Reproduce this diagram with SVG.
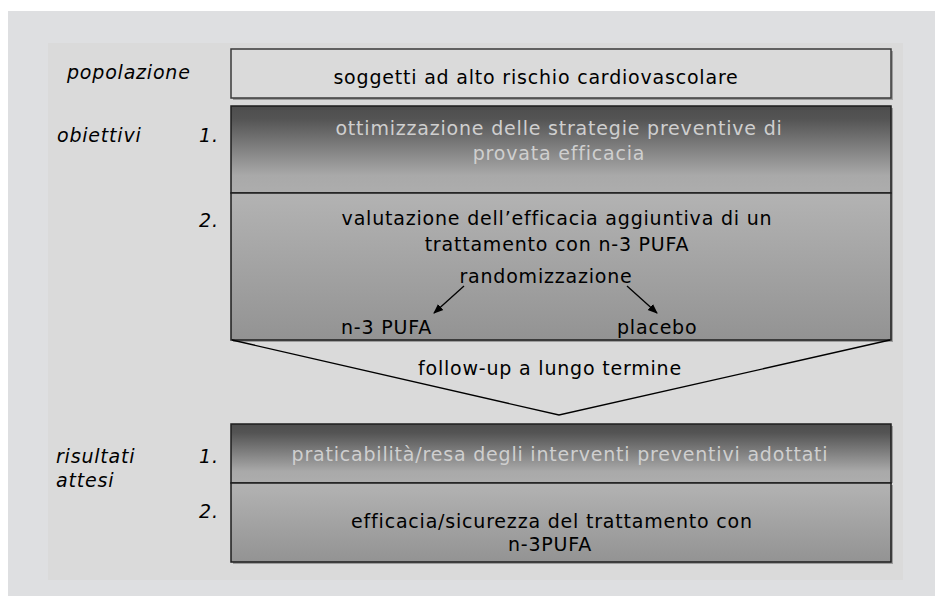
<svg xmlns="http://www.w3.org/2000/svg" width="935" height="596" viewBox="0 0 935 596">
<defs>
<linearGradient id="gDark" x1="0" y1="0" x2="0" y2="1">
<stop offset="0" stop-color="#4d4d4d"/>
<stop offset="0.15" stop-color="#545454"/>
<stop offset="0.8" stop-color="#a9a9a9"/>
<stop offset="1" stop-color="#adadad"/>
</linearGradient>
<linearGradient id="gMid" x1="0" y1="0" x2="0" y2="1">
<stop offset="0" stop-color="#b3b3b3"/>
<stop offset="1" stop-color="#939393"/>
</linearGradient>
<marker id="ah" viewBox="0 0 10 10" refX="9" refY="5" markerWidth="10" markerHeight="10" markerUnits="userSpaceOnUse" orient="auto">
<path d="M0,1 L10,5 L0,9 Z" fill="#000"/>
</marker>
<style>
text{font-family:"DejaVu Sans","Liberation Sans",sans-serif;font-size:19px;letter-spacing:0.8px;fill:#000}
.c{text-anchor:middle}
.lt{fill:#cfcfcf}
.it{font-style:italic}
.box{stroke:#1e1e1e;stroke-width:1.5}
.shadow{fill:#9c9c9c}
.conn{stroke:#000;stroke-width:1.3;fill:none}
</style>
</defs>
<rect x="0" y="0" width="935" height="596" fill="#ffffff"/>
<rect x="8" y="11" width="927" height="585" fill="#dedfe1"/>
<rect x="48" y="43" width="855" height="537" fill="#dadada"/>

<g id="labels">
<text class="it" x="67" y="79">popolazione</text>
<text class="it" x="57" y="142">obiettivi</text>
<text class="it" x="199" y="142">1.</text>
<text class="it" x="199" y="227">2.</text>
<text class="it" x="56" y="463">risultati</text>
<text class="it" x="56" y="487">attesi</text>
<text class="it" x="199" y="463">1.</text>
<text class="it" x="199" y="518">2.</text>
</g>

<g id="popolazione">
<rect x="233" y="51" width="660" height="49" class="shadow"/>
<rect x="231" y="49" width="660" height="49" fill="#dadada" stroke="#3a3a3a" stroke-width="1.5"/>
<text class="c" x="536" y="84">soggetti ad alto rischio cardiovascolare</text>
</g>

<g id="obiettivo1">
<rect x="233" y="108" width="660" height="87" class="shadow"/>
<rect x="231" y="106" width="660" height="87" fill="url(#gDark)" class="box"/>
<text class="c lt" x="559" y="135">ottimizzazione delle strategie preventive di</text>
<text class="c lt" x="559" y="160">provata efficacia</text>
</g>

<g id="obiettivo2">
<rect x="233" y="195" width="660" height="147" class="shadow"/>
<rect x="231" y="193" width="660" height="147" fill="url(#gMid)" class="box"/>
<text class="c" x="557" y="225">valutazione dell’efficacia aggiuntiva di un</text>
<text class="c" x="557" y="251">trattamento con n-3 PUFA</text>
</g>

<g id="randomizzazione">
<text class="c" x="546" y="283">randomizzazione</text>
</g>
<g id="n3pufa">
<text x="341" y="334">n-3 PUFA</text>
</g>
<g id="placebo">
<text x="617" y="334">placebo</text>
</g>

<g id="followup">
<polyline points="232,340 559,415 890,340" class="conn" stroke-width="1.5"/>
<text class="c" x="550" y="375">follow-up a lungo termine</text>
</g>

<g id="risultato1">
<rect x="233" y="426" width="660" height="57" class="shadow"/>
<rect x="231" y="424" width="660" height="59" fill="url(#gDark)" class="box"/>
<text class="c lt" x="560" y="461">praticabilità/resa degli interventi preventivi adottati</text>
</g>

<g id="risultato2">
<rect x="233" y="485" width="660" height="79" class="shadow"/>
<rect x="231" y="483" width="660" height="79" fill="url(#gMid)" class="box"/>
<text class="c" x="552" y="528">efficacia/sicurezza del trattamento con</text>
<text class="c" x="550" y="551">n-3PUFA</text>
</g>

<g id="connectors">
<line x1="464" y1="286" x2="434" y2="313" class="conn" marker-end="url(#ah)"/>
<line x1="627" y1="286" x2="657" y2="313" class="conn" marker-end="url(#ah)"/>
</g>
</svg>
